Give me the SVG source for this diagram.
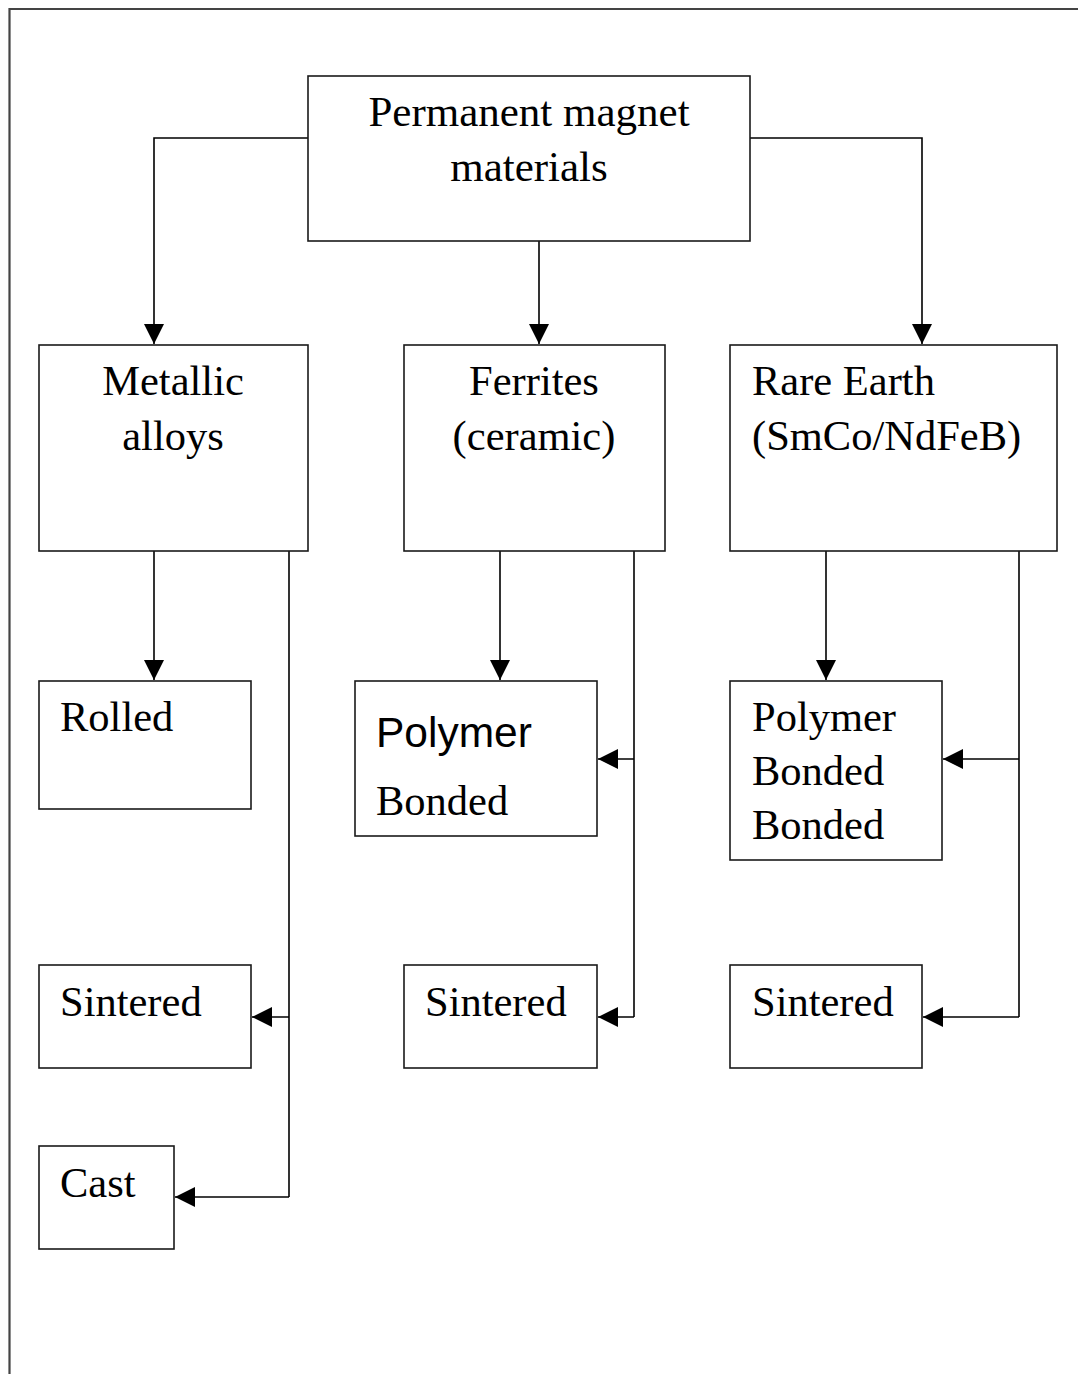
<svg xmlns="http://www.w3.org/2000/svg" width="1078" height="1374" viewBox="0 0 1078 1374">
<style>
.box{fill:#fff;stroke:#1a1a1a;stroke-width:1.6}
.ln{fill:none;stroke:#000;stroke-width:1.6}
.t{font-family:"Liberation Serif","Times New Roman",serif;font-size:42.5px;fill:#000}
.s{font-family:"Liberation Sans",Arial,sans-serif;font-size:42.5px;fill:#000}
.frame{fill:none;stroke:#444;stroke-width:2.2}
</style>
<defs>
<marker id="ah" markerUnits="userSpaceOnUse" markerWidth="20" markerHeight="20" viewBox="0 0 20 20" refX="20" refY="10" orient="auto">
<path d="M0,0 L20,10 L0,20 Z" fill="#000"/>
</marker>
</defs>
<rect width="1078" height="1374" fill="#fff"/>
<path class="frame" d="M9.5,1374 V9 H1078"/>
<g id="connectors">
<path class="ln" d="M308,138 H154 V344" marker-end="url(#ah)"/>
<path class="ln" d="M750,138 H922 V344" marker-end="url(#ah)"/>
<path class="ln" d="M539,241 V344" marker-end="url(#ah)"/>
<path class="ln" d="M154,551 V680" marker-end="url(#ah)"/>
<path class="ln" d="M289,551 V1197"/>
<path class="ln" d="M289,1017 H252" marker-end="url(#ah)"/>
<path class="ln" d="M289,1197 H175" marker-end="url(#ah)"/>
<path class="ln" d="M500,551 V680" marker-end="url(#ah)"/>
<path class="ln" d="M634,551 V1017"/>
<path class="ln" d="M634,759 H598" marker-end="url(#ah)"/>
<path class="ln" d="M634,1017 H598" marker-end="url(#ah)"/>
<path class="ln" d="M826,551 V680" marker-end="url(#ah)"/>
<path class="ln" d="M1019,551 V1017"/>
<path class="ln" d="M1019,759 H943" marker-end="url(#ah)"/>
<path class="ln" d="M1019,1017 H923" marker-end="url(#ah)"/>
</g>
<g id="root">
<rect class="box" x="308" y="76" width="442" height="165"/>
<text class="t" x="529" y="126" text-anchor="middle" style="font-size:43px">Permanent magnet</text>
<text class="t" x="529" y="181" text-anchor="middle" style="font-size:43px">materials</text>
</g>
<g id="metallic">
<rect class="box" x="39" y="345" width="269" height="206"/>
<text class="t" x="173" y="395" text-anchor="middle">Metallic</text>
<text class="t" x="173" y="450" text-anchor="middle">alloys</text>
</g>
<g id="ferrites">
<rect class="box" x="404" y="345" width="261" height="206"/>
<text class="t" x="534" y="395" text-anchor="middle">Ferrites</text>
<text class="t" x="534" y="450" text-anchor="middle">(ceramic)</text>
</g>
<g id="rareearth">
<rect class="box" x="730" y="345" width="327" height="206"/>
<text class="t" x="752" y="395">Rare Earth</text>
<text class="t" x="752" y="450">(SmCo/NdFeB)</text>
</g>
<g id="rolled">
<rect class="box" x="39" y="681" width="212" height="128"/>
<text class="t" x="60" y="731">Rolled</text>
</g>
<g id="metal-sintered">
<rect class="box" x="39" y="965" width="212" height="103"/>
<text class="t" x="60" y="1016">Sintered</text>
</g>
<g id="cast">
<rect class="box" x="39" y="1146" width="135" height="103"/>
<text class="t" x="60" y="1197">Cast</text>
</g>
<g id="ferrite-polymer">
<rect class="box" x="355" y="681" width="242" height="155"/>
<text class="s" x="376" y="747">Polymer</text>
<text class="t" x="376" y="815">Bonded</text>
</g>
<g id="ferrite-sintered">
<rect class="box" x="404" y="965" width="193" height="103"/>
<text class="t" x="425" y="1016">Sintered</text>
</g>
<g id="re-polymer">
<rect class="box" x="730" y="681" width="212" height="179"/>
<text class="t" x="752" y="731">Polymer</text>
<text class="t" x="752" y="785">Bonded</text>
<text class="t" x="752" y="839">Bonded</text>
</g>
<g id="re-sintered">
<rect class="box" x="730" y="965" width="192" height="103"/>
<text class="t" x="752" y="1016">Sintered</text>
</g>
</svg>
